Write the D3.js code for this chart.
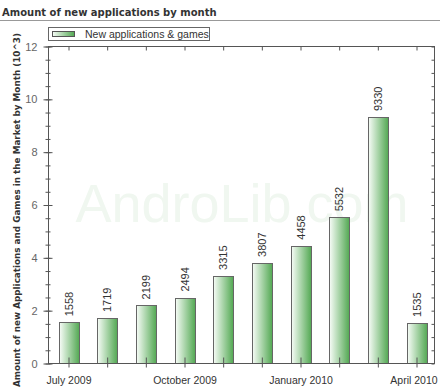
<!DOCTYPE html>
<html>
<head>
<meta charset="utf-8">
<script src="https://cdnjs.cloudflare.com/ajax/libs/d3/7.8.5/d3.min.js"></script>
<style>
  body { margin: 0; background: #fff; }
  svg { display: block; }
  text { font-family: "Liberation Sans", Arial, sans-serif; }
</style>
</head>
<body>
<div id="chart"></div>
<script>
var months = ["Jul 2009", "Aug 2009", "Sep 2009", "Oct 2009", "Nov 2009",
              "Dec 2009", "Jan 2010", "Feb 2010", "Mar 2010", "Apr 2010"];
var monthLabels = ["July 2009", "", "", "October 2009", "", "",
                   "January 2010", "", "", "April 2010"];
var apps = [1558, 1719, 2199, 2494, 3315, 3807, 4458, 5532, 9330, 1535];
var yMajor = [0, 2, 4, 6, 8, 10, 12];
var yMinor = d3.range(0, 12.01, 0.5);

var W = 440, H = 390;
var L = 48.5, R = 434.5, T = 46.5, B = 363.5;

var svg = d3.select("#chart").append("svg")
    .attr("width", W).attr("height", H);

var defs = svg.append("defs");
var grad = defs.append("linearGradient").attr("id", "barGrad")
    .attr("x1", "0%").attr("x2", "100%").attr("y1", "0%").attr("y2", "0%");
grad.append("stop").attr("offset", "0%").attr("stop-color", "#f7fcf7");
grad.append("stop").attr("offset", "100%").attr("stop-color", "#52a852");

// title
svg.append("text")
    .attr("x", 2).attr("y", 16)
    .style("font-family", "DejaVu Sans, Verdana, sans-serif")
    .style("font-weight", "bold").style("font-size", "10px")
    .attr("fill", "#333")
    .text("Amount of new applications by month");
svg.append("line")
    .attr("x1", 0).attr("x2", W).attr("y1", 20.5).attr("y2", 20.5)
    .attr("stroke", "#999");

// watermark
svg.append("text")
    .attr("x", 242).attr("y", 222)
    .attr("text-anchor", "middle")
    .style("font-size", "54px")
    .attr("fill", "#f0f7f0")
    .text("AndroLib.com");

var x = d3.scalePoint().domain(months).range([68.5, 416.5]);
var y = d3.scaleLinear().domain([0, 12]).range([B, T]);
var barW = 20;

// bars
svg.append("g").selectAll("rect")
  .data(apps)
  .join("rect")
    .attr("x", function(d, i) { return Math.round(x(months[i]) - barW / 2) + 0.5; })
    .attr("y", function(d) { return Math.round(y(d / 1000)) + 0.5; })
    .attr("width", barW)
    .attr("height", function(d) { return B - Math.round(y(d / 1000)) - 0.5; })
    .attr("fill", "url(#barGrad)")
    .attr("stroke", "#666")
    .attr("stroke-width", 1);

// value labels
svg.append("g").selectAll("text")
  .data(apps)
  .join("text")
    .attr("transform", function(d, i) {
      return "translate(" + (x(months[i]) + 4) + "," + (y(d / 1000) - 6) + ") rotate(-90)";
    })
    .style("font-size", "11px")
    .attr("fill", "#333")
    .text(function(d) { return d; });

// frame
svg.append("rect")
    .attr("x", L).attr("y", T).attr("width", R - L).attr("height", B - T)
    .attr("fill", "none").attr("stroke", "#555");

// left axis: minor ticks
var gLeftMinor = svg.append("g").attr("transform", "translate(" + L + ",0)")
    .call(d3.axisLeft(y).tickValues(yMinor).tickSize(0).tickFormat(""));
gLeftMinor.select(".domain").remove();
gLeftMinor.selectAll(".tick line").attr("x1", -3).attr("x2", 2).attr("stroke", "#555");

// left axis: major ticks and labels
var gLeft = svg.append("g").attr("transform", "translate(" + L + ",0)")
    .call(d3.axisLeft(y).tickValues(yMajor).tickSize(0).tickPadding(11).tickFormat(d3.format("d")));
gLeft.select(".domain").remove();
gLeft.selectAll(".tick line").attr("x1", -5).attr("x2", 4).attr("stroke", "#555");
gLeft.selectAll(".tick text")
    .style("font-family", "Liberation Sans, Arial, sans-serif")
    .style("font-size", "11px").attr("fill", "#666");

// right axis ticks
var gRight = svg.append("g").attr("transform", "translate(" + R + ",0)")
    .call(d3.axisLeft(y).tickValues(yMinor).tickSize(3).tickFormat(""));
gRight.select(".domain").remove();
gRight.selectAll(".tick line").attr("stroke", "#555");

// top axis ticks
var gTop = svg.append("g").attr("transform", "translate(0," + T + ")")
    .call(d3.axisBottom(x).tickSize(4).tickFormat(""));
gTop.select(".domain").remove();
gTop.selectAll(".tick line").attr("stroke", "#555");

// bottom axis
var gBottom = svg.append("g").attr("transform", "translate(0," + B + ")")
    .call(d3.axisBottom(x).tickSize(0).tickPadding(13)
      .tickFormat(function(d, i) { return monthLabels[i]; }));
gBottom.select(".domain").remove();
gBottom.selectAll(".tick line").attr("y1", -6).attr("y2", 4).attr("stroke", "#555");
gBottom.selectAll(".tick text")
    .style("font-family", "Liberation Sans, Arial, sans-serif")
    .style("font-size", "10.5px").attr("fill", "#333");
// keep the last label inside the picture
gBottom.selectAll(".tick text").filter(function(d, i) { return i === months.length - 1; })
    .attr("dx", -3);

// y axis title
svg.append("text")
    .attr("transform", "translate(20,210) rotate(-90)")
    .attr("text-anchor", "middle")
    .style("font-family", "DejaVu Sans, Verdana, sans-serif")
    .style("font-weight", "bold").style("font-size", "9px")
    .attr("fill", "#333")
    .attr("textLength", 354).attr("lengthAdjust", "spacingAndGlyphs")
    .text("Amount of new Applications and Games in the Market by Month (10^3)");

// legend
var lg = svg.append("g");
lg.append("rect")
    .attr("x", 48.5).attr("y", 27.5).attr("width", 161).attr("height", 13)
    .attr("fill", "#fff").attr("stroke", "#666");
lg.append("rect")
    .attr("x", 52.5).attr("y", 31.5).attr("width", 22).attr("height", 5)
    .attr("fill", "url(#barGrad)").attr("stroke", "#555");
lg.append("text")
    .attr("x", 85).attr("y", 37.5)
    .style("font-size", "10.5px").attr("fill", "#333")
    .text("New applications & games");
</script>
</body>
</html>
